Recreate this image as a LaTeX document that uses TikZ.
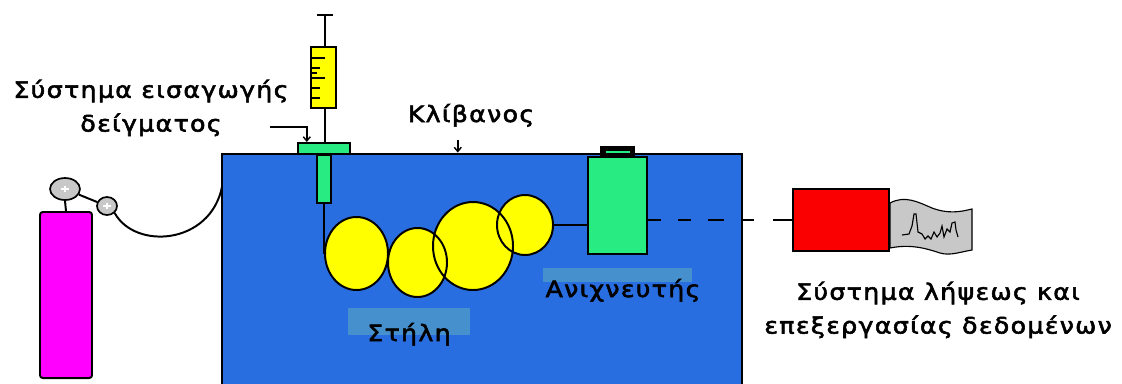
\documentclass[tikz,border=0pt]{standalone}
\usepackage{fontspec}
\setmainfont{DejaVu Sans}
\newfontfamily\lblfont{DejaVu Sans}[FakeStretch=1.12,LetterSpace=6,FakeBold=2.5]
\usetikzlibrary{arrows.meta,shapes.geometric}

\definecolor{ovenblue}{RGB}{40,110,225}
\definecolor{tagblue}{RGB}{70,145,205}
\definecolor{partgreen}{RGB}{40,235,130}
\definecolor{colyellow}{RGB}{255,255,0}
\definecolor{gasmagenta}{RGB}{255,0,255}
\definecolor{recred}{RGB}{250,0,0}
\definecolor{papergray}{RGB}{200,200,200}

\begin{document}
\begin{tikzpicture}[x=0.025cm,y=-0.025cm,
  part/.style={draw,line width=1.4pt,rectangle,inner sep=0pt},
  col/.style={ellipse,fill=colyellow,inner sep=0pt},
  gauge/.style={ellipse,draw,line width=1.2pt,fill=papergray,inner sep=0pt},
  lbl/.style={font=\lblfont\fontsize{16}{24}\selectfont,inner sep=0pt,align=center},
  pointer/.style={-{Straight Barb[length=3pt,width=5pt]},line width=1pt},
  link/.style={line width=1.5pt,dash pattern=on 0.325cm off 0.425cm on 0.325cm off 0.425cm on 0.4cm off 0.475cm on 0.275cm off 0.475cm on 1cm}]

  \useasboundingbox (0,0) rectangle (1122,383);

  % oven (runs off the bottom)
  \node[part,line width=2pt,fill=ovenblue,minimum width=13cm,minimum height=6cm] (oven) at (482,274) {};

  % gas cylinder and regulator
  \node[part,fill=gasmagenta,rounded corners=2pt,minimum width=1.3cm,minimum height=4.15cm] (cyl) at (66,295) {};
  \node[gauge,minimum width=0.75cm,minimum height=0.55cm] (g1) at (65,189) {};
  \node[gauge,minimum width=0.5cm,minimum height=0.45cm] (g2) at (107,206) {};
  \foreach \g in {g1,g2}
    \draw[white,line width=0.8pt] ([xshift=-0.1cm]\g.center) -- ([xshift=0.1cm]\g.center)
                                  ([yshift=-0.08cm]\g.center) -- ([yshift=0.08cm]\g.center);
  \draw[line width=1.4pt] (cyl.north) -- (g1.south);
  \draw[line width=1.4pt] (g1) -- (g2);
  \coordinate (hosein) at (222,187);
  \draw[line width=1.4pt] (g2.south east) .. controls (135,250) and (210,245) .. (hosein);

  % injector
  \node[part,fill=partgreen,minimum width=1.3cm,minimum height=0.275cm] (plate) at (324,148.5) {};
  \node[part,fill=partgreen,minimum width=0.35cm,minimum height=1.2cm] (tube) at (324,179) {};
  \node[part,line width=1.2pt,fill=colyellow,minimum width=0.625cm,minimum height=1.525cm] (barrel) at (323.5,77.5) {};
  \coordinate (plunger) at (325,15);
  \draw[line width=1pt] ([xshift=-0.2cm]plunger) -- ([xshift=0.2cm]plunger);
  \draw[line width=1pt] (plunger) -- (plunger |- barrel.north);
  \draw[line width=1pt] (plunger |- barrel.south) -- (plunger |- plate.north);
  \foreach \y/\e in {58/325,68/320,73/317,78/325,88/320,98/320}
    \draw[line width=1pt] (barrel.west |- 0,\y) -- (\e,\y);

  % column
  \node[col,minimum width=1.575cm,minimum height=1.825cm] (c1) at (356.5,253.5) {};
  \node[col,minimum width=1.475cm,minimum height=1.725cm] (c2) at (417.5,262.5) {};
  \node[col,minimum width=2cm,minimum height=2.2cm] (c3) at (473,246) {};
  \node[col,minimum width=1.4cm,minimum height=1.5cm] (c4) at (525,225) {};
  \foreach \c/\rx/\ry in {c1/31.5/36.5,c2/29.5/34.5,c3/40/44,c4/28/30}
    \draw[line width=1.4pt] (\c.center) ellipse[x radius=\rx,y radius=\ry];
  \draw[line width=1.4pt] (tube.south) -- (tube.south |- c1.west);

  % detector
  \node[part,fill=partgreen,minimum width=1.475cm,minimum height=2.425cm] (det) at (617.5,205.5) {};
  \node[part,fill=black,minimum width=0.825cm,minimum height=0.25cm] (cap) at (617.5,152) {};
  \draw[partgreen,line width=0.8pt] ([xshift=-0.3cm]cap.center) -- ([xshift=0.3cm]cap.center);
  \draw[line width=1.4pt] (c4.east) -- (c4.east -| det.west);

  % data system
  \node[part,fill=recred,minimum width=2.4cm,minimum height=1.55cm] (rec) at (841,220) {};
  \draw[link] (det.east |- rec.west) -- (rec.west);
  \draw[line width=0.8pt,fill=papergray] (890,203) .. controls (905,195) and (918,202) .. (932,208)
    .. controls (948,214) and (960,212) .. (972,209) -- (972,250)
    .. controls (960,252) and (950,256) .. (940,253) .. controls (925,248) and (910,244) .. (890,248) -- cycle;
  \draw[line width=0.8pt] plot coordinates {(902,235) (909,234) (912,226) (914,214) (916,214) (918,232)
    (922,234) (925,239) (928,236) (931,239) (934,232) (937,237) (940,233) (942,226) (944,237)
    (947,229) (950,232) (952,223) (955,222) (956,230) (958,237)};

  % labels
  \fill[tagblue] (348,308) rectangle (470,335);
  \fill[tagblue] (543,268) rectangle (692,282);
  \node[lbl,anchor=base] (collbl) at (409,341) {Στήλη};
  \node[lbl,anchor=base] (detlbl) at (623,297) {Ανιχνευτής};
  \node[lbl,anchor=base] (ovenlbl) at (471,122) {Κλίβανος};
  \node[lbl] (injlbl) at (151,108) {Σύστημα εισαγωγής\\δείγματος};
  \node[lbl] (reclbl) at (938,310) {Σύστημα λήψεως και\\επεξεργασίας δεδομένων};

  \draw[pointer] ([xshift=-0.33cm,yshift=-0.45cm]ovenlbl.base) -- ([xshift=-0.33cm]ovenlbl.base |- oven.north);
  \coordinate (injtail) at (270,127);
  \draw[pointer] (injtail) -| ([xshift=-0.43cm]plate.north);
\end{tikzpicture}
\end{document}
